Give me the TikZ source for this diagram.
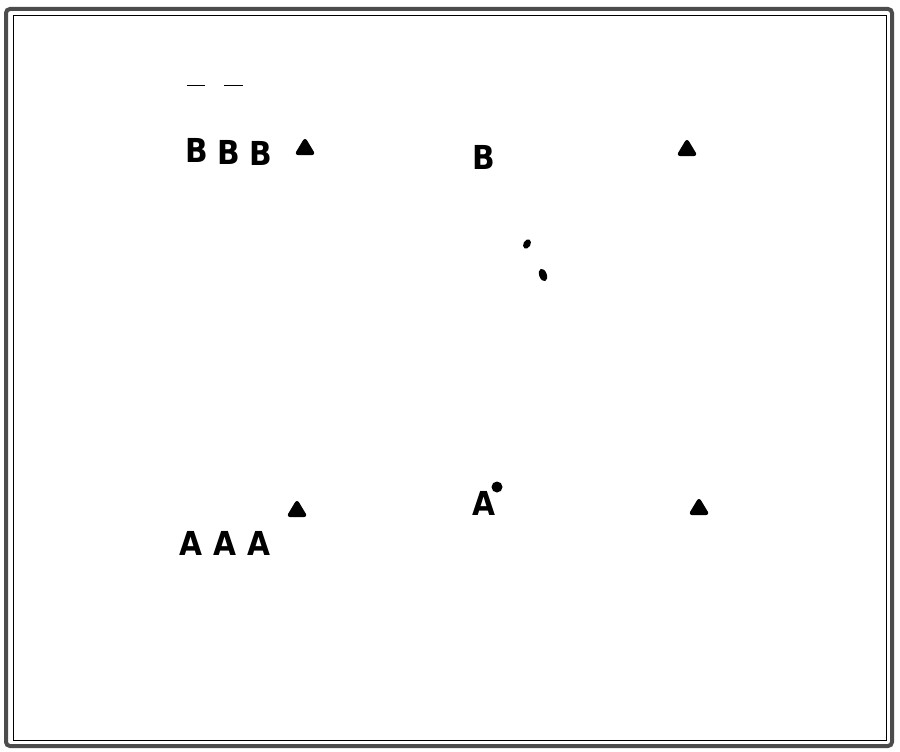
\documentclass[tikz,border=0pt]{standalone}
\usepackage{fontspec}
\setmainfont{DejaVu Sans}
\begin{document}
\begin{tikzpicture}[x=1pt,y=-1pt,
  letter/.style={font=\bfseries\fontsize{33}{33}\selectfont, inner sep=0pt, anchor=center, xscale=0.9},
  tri/.style={fill=black, draw=black, line width=2pt, line join=round, rounded corners=2pt},
  dot/.style={fill=black, draw=none},
  tick/.style={line width=1pt, black}]
\useasboundingbox (0,0) rectangle (900,752);
\fill[white] (0,0) rectangle (900,752);
% frame
\draw[line width=4pt, gray!60!black, rounded corners=4pt] (6,9) rectangle (892,746);
\draw[line width=1.2pt, black] (13.5,15.5) rectangle (886.5,740.5);
% top left letters
\node[letter] (b1) at (197,150) {B};
\node[letter] (b2) at (229,152) {B};
\node[letter] (b3) at (261,153) {B};
\draw[tick] (187,86) -- (205,86);
\draw[tick] (224,86) -- (243,86);
\fill[tri] (305,139) -- (314,154) -- (296,154) -- cycle;
% top middle
\node[letter] (b4) at (484,157) {B};
\fill[tri] (687,140) -- (696,155) -- (678,155) -- cycle;
% middle dots
\fill[dot, rotate around={-30:(527,244)}] (527,244) ellipse (3.5 and 5);
\fill[dot, rotate around={20:(543,275)}] (543,275) ellipse (3.8 and 6.5);
% bottom left letters
\node[letter] (a1) at (191,543) {A};
\node[letter] (a2) at (225,543) {A};
\node[letter] (a3) at (259,543) {A};
\fill[tri] (297,501) -- (306,516) -- (288,516) -- cycle;
% bottom middle
\node[letter] (a4) at (484,503) {A};
\fill[dot] (497,487) circle (5.5);
\fill[tri] (699,499) -- (708,514) -- (690,514) -- cycle;
\end{tikzpicture}
\end{document}
